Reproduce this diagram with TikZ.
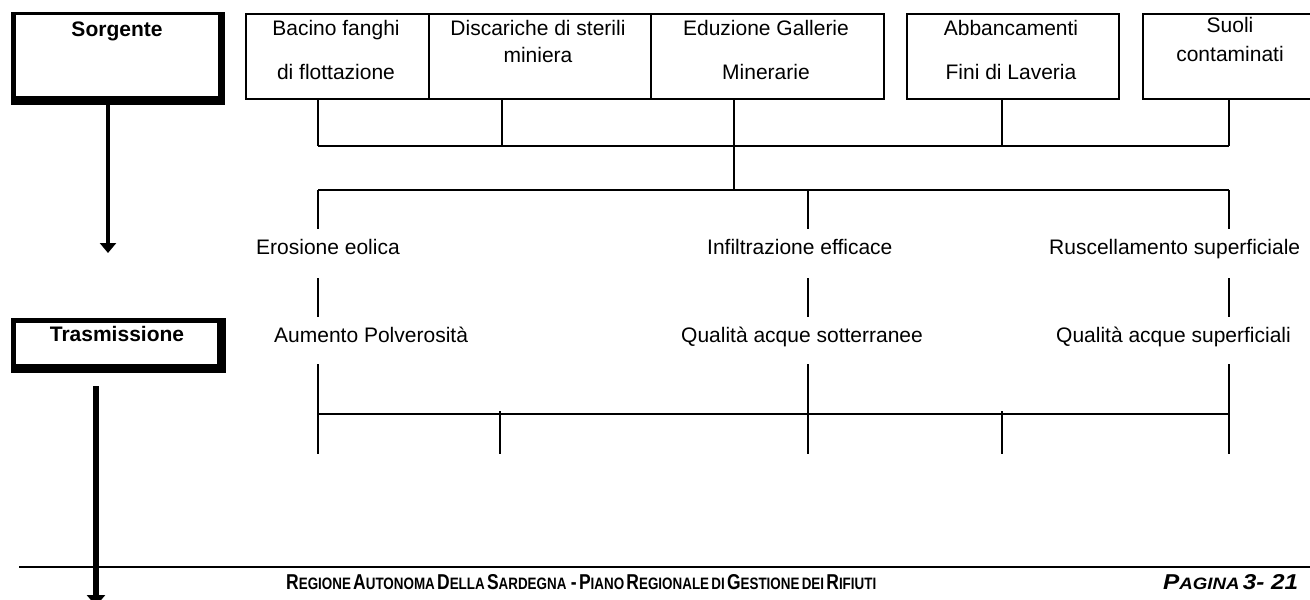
\documentclass[tikz,border=0pt]{standalone}
\usepackage{fontspec}
\setmainfont{Liberation Sans}
\usetikzlibrary{arrows.meta}
\newcommand\fsc[2]{{\fontsize{21.5}{24}\selectfont #1}{\fontsize{16.5}{24}\selectfont #2}}
\begin{document}
\begin{tikzpicture}[x=1pt,y=-1pt,
  conn/.style={line width=1.8pt},
  box/.style={draw, line width=1.8pt, anchor=north west, inner sep=0pt, minimum height=85pt},
  txt/.style={font=\fontsize{21}{25}\selectfont, anchor=base, inner sep=0pt},
  lbl/.style={font=\fontsize{21}{25}\selectfont, anchor=base west, inner sep=0pt},
  head/.style={font=\fontsize{21}{25}\selectfont\bfseries, anchor=base, inner sep=0pt},
  frameout/.style={fill=black, anchor=north west, inner sep=0pt},
  framein/.style={fill=white, anchor=north west, inner sep=0pt},
  foot/.style={anchor=base west, inner sep=0pt, font=\bfseries},
]
\clip (0,0) rectangle (1310,600);
\fill[white] (0,0) rectangle (1310,600);

% left header boxes
\node[frameout, minimum width=214pt, minimum height=93pt] (sorgF) at (11,12) {};
\node[framein, minimum width=202pt, minimum height=81pt] (sorgI) at (16,15) {};
\node[head] (sorg) at (117,36) {Sorgente};
\node[frameout, minimum width=215pt, minimum height=55pt] (trasF) at (11,318) {};
\node[framein, minimum width=201pt, minimum height=41pt] (trasI) at (16,323) {};
\node[head] (tras) at (117,341.5) {Trasmissione};

% big arrows
\coordinate (a1e) at (108,253);
\draw[line width=4pt, -{Triangle[width=16pt,length=10pt]}] (sorgF.south -| a1e) -- (a1e);
\coordinate (a2s) at (96,386);
\coordinate (a2e) at (96,606);
\draw[line width=5.5pt, -{Triangle[width=18pt,length=11pt]}] (a2s) -- (a2e);

% source boxes
\node[box, minimum width=183pt] (b1) at (245,13) {};
\node[box, minimum width=222pt] (b2) at (428,13) {};
\node[box, minimum width=233pt] (b3) at (650,13) {};
\node[box, minimum width=212pt] (b4) at (906,13) {};
\node[box, minimum width=220pt] (b5) at (1142,13) {};

\node[txt] (b1a) at (336,35.5) {Bacino fanghi};
\node[txt] (b1b) at (336,79.5) {di flottazione};
\node[txt] (b2a) at (538,35.5) {Discariche di sterili};
\node[txt] (b2b) at (538,62.5) {miniera};
\node[txt] (b3a) at (766,35.5) {Eduzione Gallerie};
\node[txt] (b3b) at (766,79.5) {Minerarie};
\node[txt] (b4a) at (1011,35.5) {Abbancamenti};
\node[txt] (b4b) at (1011,79.5) {Fini di Laveria};
\node[txt] (b5a) at (1230,32.5) {Suoli};
\node[txt] (b5b) at (1230,61) {contaminati};

% collector
\coordinate (t1) at (318,146);
\coordinate (t2) at (502,146);
\coordinate (t3) at (734,146);
\coordinate (t4) at (1002,146);
\coordinate (t5) at (1229,146);
\draw[conn] (b1.south -| t1) -- (t1);
\draw[conn] (b2.south -| t2) -- (t2);
\draw[conn] (b3.south -| t3) -- (t3);
\draw[conn] (b4.south -| t4) -- (t4);
\draw[conn] (b5.south -| t5) -- (t5);
\draw[conn] (t1) -- (t5);

% distribution
\coordinate (m1) at (318,190);
\coordinate (m2) at (808,190);
\coordinate (m3) at (734,190);
\coordinate (m5) at (1229,190);
\draw[conn] (t3) -- (m3);
\draw[conn] (m1) -- (m5);
\coordinate (u1) at (318,229);
\coordinate (u2) at (808,229);
\coordinate (u3) at (1229,229);
\draw[conn] (m1) -- (u1);
\draw[conn] (m2) -- (u2);
\draw[conn] (m5) -- (u3);

\node[lbl] (l1) at (256,254.5) {Erosione eolica};
\node[lbl] (l2) at (707,254.5) {Infiltrazione efficace};
\node[lbl] (l3) at (1049,254.5) {Ruscellamento superficiale};

\coordinate (v1a) at (318,278);
\coordinate (v1b) at (318,317);
\coordinate (v2a) at (808,278);
\coordinate (v2b) at (808,317);
\coordinate (v3a) at (1229,278);
\coordinate (v3b) at (1229,317);
\draw[conn] (v1a) -- (v1b);
\draw[conn] (v2a) -- (v2b);
\draw[conn] (v3a) -- (v3b);

\node[lbl] (q1) at (274,342.5) {Aumento Polverosità};
\node[lbl] (q2) at (681,342.5) {Qualità acque sotterranee};
\node[lbl] (q3) at (1056,342.5) {Qualità acque superficiali};

% lower connectors
\coordinate (w1a) at (318,364);
\coordinate (w1b) at (318,454);
\coordinate (w2a) at (808,364);
\coordinate (w2b) at (808,454);
\coordinate (w3a) at (1229,364);
\coordinate (w3b) at (1229,454);
\draw[conn] (w1a) -- (w1b);
\draw[conn] (w2a) -- (w2b);
\draw[conn] (w3a) -- (w3b);
\coordinate (h1) at (318,414);
\coordinate (h2) at (1229,414);
\draw[conn] (h1) -- (h2);
\coordinate (k1a) at (500,411);
\coordinate (k1b) at (500,454);
\coordinate (k2a) at (1002,411);
\coordinate (k2b) at (1002,454);
\draw[conn] (k1a) -- (k1b);
\draw[conn] (k2a) -- (k2b);

% footer
\coordinate (fl) at (19,567);
\coordinate (fr) at (1312,567);
\draw[line width=2.5pt] (fl) -- (fr);
\node[foot] (ft) at (286,589) {\resizebox{590pt}{\height}{\fsc{R}{EGIONE} \fsc{A}{UTONOMA} \fsc{D}{ELLA} \fsc{S}{ARDEGNA}\ \ {\fontsize{21.5}{24}\selectfont -} \fsc{P}{IANO} \fsc{R}{EGIONALE} \fsc{}{DI} \fsc{G}{ESTIONE} \fsc{}{DEI} \fsc{R}{IFIUTI}}};
\node[foot] (pg) at (1163,589) {\resizebox{135pt}{\height}{\itshape\fsc{P}{AGINA} {\fontsize{21.5}{24}\selectfont 3- 21}}};
\end{tikzpicture}
\end{document}
